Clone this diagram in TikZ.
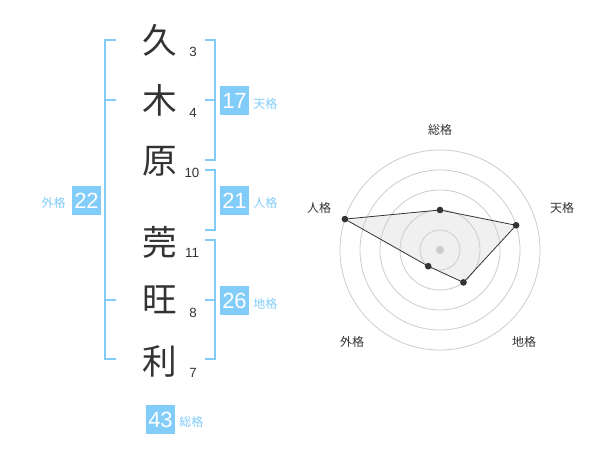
\documentclass[tikz,border=0pt]{standalone}
\usepackage{fontspec}
\setmainfont{Liberation Sans}
\newfontfamily\cjk{Noto Sans CJK JP}
\definecolor{sky}{RGB}{130,204,250}
\definecolor{ink}{RGB}{51,51,51}
\definecolor{ring}{RGB}{204,204,204}
\definecolor{area}{RGB}{240,240,240}
\begin{document}
\begin{tikzpicture}[x=0.75pt,y=-0.75pt,
  kanji/.style={font=\cjk\fontsize{26}{26}\selectfont,text=ink,inner sep=0pt},
  strokes/.style={font=\fontsize{10}{10}\selectfont,text=ink,inner sep=0pt},
  numbox/.style={fill=sky,text=white,minimum width=21.75pt,minimum height=21.75pt,inner sep=0pt,font=\fontsize{16.5}{16.5}\selectfont},
  boxlab/.style={font=\cjk\fontsize{9}{9}\selectfont,text=sky,inner sep=0pt},
  brk/.style={draw=sky,line width=1.5pt},
  radlab/.style={font=\cjk\fontsize{9}{9}\selectfont,text=ink,inner sep=0pt},
  dot/.style={circle,fill=ink,minimum size=5pt,inner sep=0pt}]
\useasboundingbox (0,0) rectangle (600,470);
% characters
\node[kanji] (k1) at (160,40) {久};
\node[kanji] (k2) at (160,100) {木};
\node[kanji] (k3) at (160,161) {原};
\node[kanji] (k4) at (160,242) {莞};
\node[kanji] (k5) at (160,300) {旺};
\node[kanji] (k6) at (160,361) {利};
\node[strokes] (s1) at (193,52) {3};
\node[strokes] (s2) at (193,113) {4};
\node[strokes] (s3) at (192,172.5) {10};
\node[strokes] (s4) at (192,252.5) {11};
\node[strokes] (s5) at (193,312.5) {8};
\node[strokes] (s6) at (193,372.5) {7};
% brackets
\draw[brk] (116,40) -- (105,40) -- (105,359.5) -- (116,359.5);
\draw[brk] (105,100) -- (116,100);
\draw[brk] (105,300) -- (116,300);
\draw[brk] (205,40) -- (214.5,40) -- (214.5,160) -- (205,160);
\draw[brk] (205,100) -- (214.5,100);
\draw[brk] (205,170) -- (214.5,170) -- (214.5,230) -- (205,230);
\draw[brk] (205,240) -- (214.5,240) -- (214.5,359.5) -- (205,359.5);
\draw[brk] (205,300) -- (214.5,300);
% boxes
\node[numbox] (b17) at (234.5,100.5) {17};
\node[boxlab,anchor=west] (l17) at (253,104) {天格};
\node[numbox] (b21) at (234.5,200.5) {21};
\node[boxlab,anchor=west] (l21) at (253,203) {人格};
\node[numbox] (b26) at (234.5,300.5) {26};
\node[boxlab,anchor=west] (l26) at (253,304) {地格};
\node[numbox] (b22) at (86.5,200.5) {22};
\node[boxlab,anchor=east] (l22) at (66,203) {外格};
\node[numbox] (b43) at (160.5,419.5) {43};
\node[boxlab,anchor=west] (l43) at (179,422) {総格};
% radar
\coordinate (c) at (440,250);
\coordinate (p1) at (440,210);
\coordinate (p2) at (516.1,225.3);
\coordinate (p3) at (463.5,282.4);
\coordinate (p4) at (428.2,266.2);
\coordinate (p5) at (344.9,219.1);
\fill[area] (p1) -- (p2) -- (p3) -- (p4) -- (p5) -- cycle;
\foreach \r in {20,40,60,80,100} \draw[ring,line width=0.6pt] (c) circle (\r);
\node[circle,fill=ring,minimum size=6pt,inner sep=0pt] (cd) at (c) {};
\draw[ink,line width=0.6pt] (p1) -- (p2) -- (p3) -- (p4) -- (p5) -- cycle;
\foreach \p in {p1,p2,p3,p4,p5} \node[dot] at (\p) {};
\node[radlab] (r1) at (440,130) {総格};
\node[radlab] (r2) at (562,208) {天格};
\node[radlab] (r3) at (524,342) {地格};
\node[radlab] (r4) at (352,342) {外格};
\node[radlab] (r5) at (319,208) {人格};
\end{tikzpicture}
\end{document}
